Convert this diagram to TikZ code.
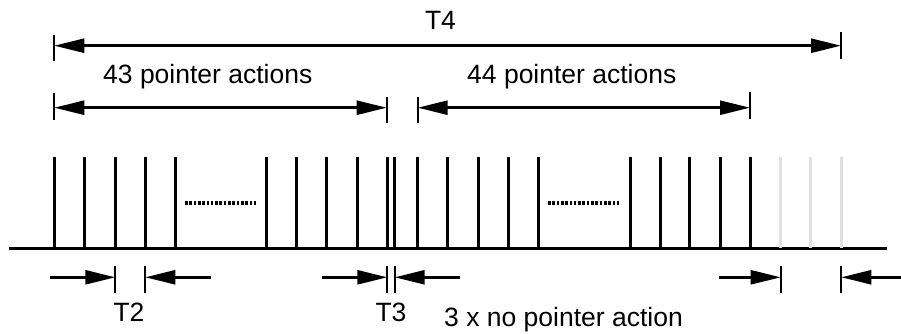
\documentclass[tikz,border=0pt]{standalone}
\usepackage{fontspec}
\setmainfont{Liberation Sans}
\usetikzlibrary{arrows.meta}
\tikzset{
  pulse/.style={line width=3pt},
  ghostpulse/.style={line width=3pt, draw=black!12},
  axis/.style={line width=3pt},
  tickmark/.style={line width=2pt},
  dimarrow/.style={line width=2.5pt, -{Triangle[length=30pt,width=14pt]}},
  dimboth/.style={line width=2.5pt, {Triangle[length=30pt,width=14pt]}-{Triangle[length=30pt,width=14pt]}},
  dots/.style={line width=3.2pt, dash pattern=on 2.6pt off 1.7pt},
  lbl/.style={inner sep=0pt, font=\fontsize{26.5}{30}\selectfont},
}
\begin{document}
\begin{tikzpicture}[x=1pt,y=-1pt]
\useasboundingbox (0,0) rectangle (901,334);
% baseline
\coordinate (bl) at (9,248);
\coordinate (br) at (887,248);
\draw[axis] (bl) -- (br);
% pulses
\foreach \x in {54.3,84.3,115.3,145.3,175.3,266.3,296.3,326.3,357.3,387.3,394,417.3,447.3,478.3,508.3,538.3,630,660,689.3,720,750.7}
  \draw[pulse] (\x,157) -- (\x,248);
\foreach \x in {780.7,810.7,841.3}
  \draw[ghostpulse] (\x,157) -- (\x,248);
% dotted gaps
\coordinate (d1a) at (185,203); \coordinate (d1b) at (257,203);
\coordinate (d2a) at (548,203); \coordinate (d2b) at (619,203);
\draw[dots] (d1a) -- (d1b);
\draw[dots] (d2a) -- (d2b);
% T4
\draw[tickmark] (54.3,35) -- (54.3,61);
\draw[tickmark] (841,32) -- (841,59);
\coordinate (t4l) at (54.3,45.7); \coordinate (t4r) at (841,45.7);
\draw[dimboth] (t4l) -- (t4r);
\node[lbl, anchor=base] (t4) at (440.5,29.3) {T4};
% 43 pointer actions
\draw[tickmark] (54.3,93) -- (54.3,120);
\draw[tickmark] (386.7,97) -- (386.7,123);
\coordinate (a43l) at (54.3,107.7); \coordinate (a43r) at (386.7,107.7);
\draw[dimboth] (a43l) -- (a43r);
\node[lbl, anchor=base west] (n43) at (103,83.3) {43 pointer actions};
% 44 pointer actions
\draw[tickmark] (417.7,97) -- (417.7,123);
\draw[tickmark] (750,92) -- (750,119);
\coordinate (a44l) at (417.7,107.7); \coordinate (a44r) at (750,107.7);
\draw[dimboth] (a44l) -- (a44r);
\node[lbl, anchor=base west] (n44) at (467,84) {44 pointer actions};
% T2
\draw[tickmark] (115.3,266) -- (115.3,293);
\draw[tickmark] (145.3,266) -- (145.3,293);
\coordinate (t2a) at (50,277.3); \coordinate (t2b) at (115.3,277.3);
\coordinate (t2c) at (210.7,277.3); \coordinate (t2d) at (145.3,277.3);
\draw[dimarrow] (t2a) -- (t2b);
\draw[dimarrow] (t2c) -- (t2d);
\node[lbl, anchor=base] (t2) at (129,321.7) {T2};
% T3
\draw[tickmark] (387.3,266) -- (387.3,293);
\draw[tickmark] (394.7,266) -- (394.7,293);
\coordinate (t3a) at (322,277.3); \coordinate (t3b) at (387.3,277.3);
\coordinate (t3c) at (460,277.3); \coordinate (t3d) at (394.7,277.3);
\draw[dimarrow] (t3a) -- (t3b);
\draw[dimarrow] (t3c) -- (t3d);
\node[lbl, anchor=base] (t3) at (391,321.7) {T3};
% no pointer action
\draw[tickmark] (780.7,266) -- (780.7,293);
\draw[tickmark] (841.3,266) -- (841.3,293);
\coordinate (npa) at (719.3,277.3); \coordinate (npb) at (780.7,277.3);
\coordinate (npc) at (901,277.3); \coordinate (npd) at (841.3,277.3);
\draw[dimarrow] (npa) -- (npb);
\draw[dimarrow] (npc) -- (npd);
\node[lbl, anchor=base west] (np) at (444,326) {3 x no pointer action};
\end{tikzpicture}
\end{document}
